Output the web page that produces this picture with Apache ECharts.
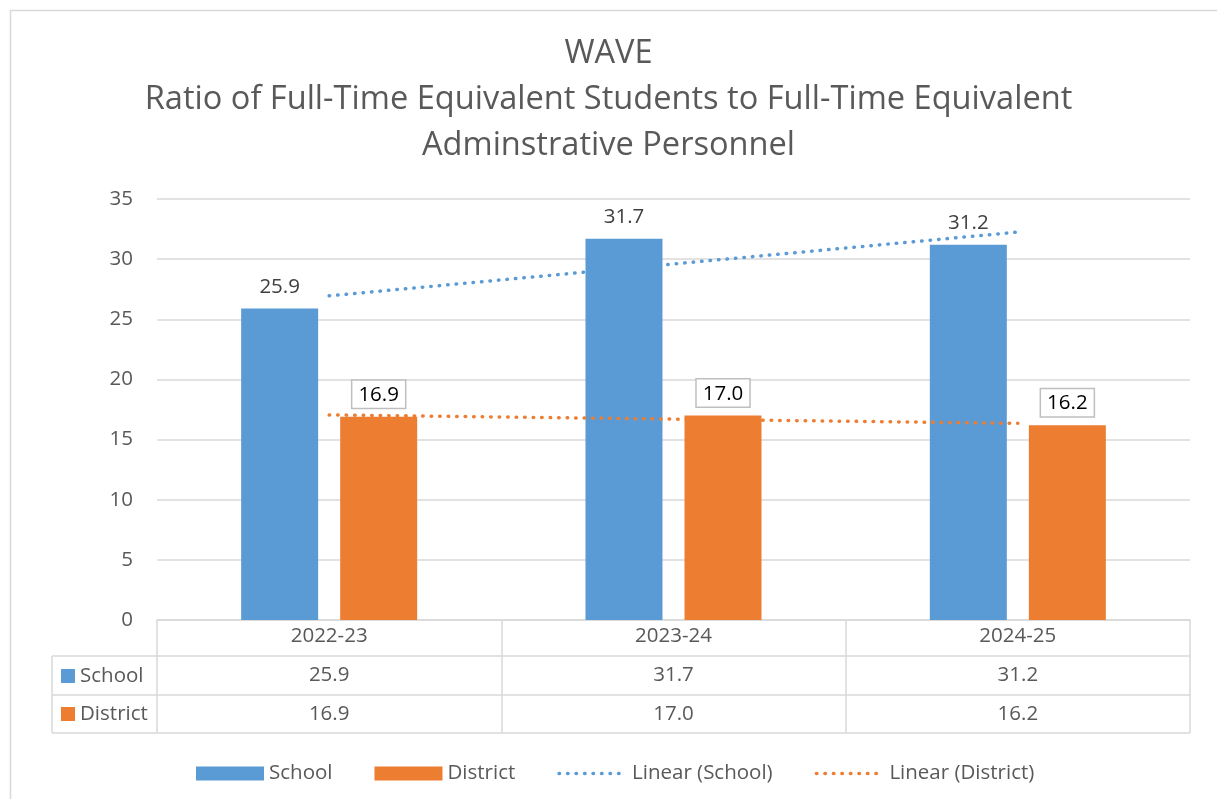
<!DOCTYPE html>
<html>
<head>
<meta charset="utf-8">
<script src="https://cdn.jsdelivr.net/npm/echarts@6/dist/echarts.min.js"></script>
<style>
  html, body { margin: 0; padding: 0; background: #fff; }
  #main { width: 1217px; height: 799px; }
</style>
</head>
<body>
<div id="main"></div>
<script>
// chart data
var categories = ["2022-23", "2023-24", "2024-25"];
var schoolValues = [25.9, 31.7, 31.2];
var districtValues = [16.9, 17.0, 16.2];
var yTicks = { min: 0, max: 35, interval: 5 };

var FONT = "Open Sans";
var TXT = "#595959";
var GRID_LINE = "#d9d9d9";
var BLUE = "#5b9bd5";
var ORANGE = "#ed7d31";
var FS = 20.5;

// Excel style linear trendline (least squares over category index 1..n)
function linearTrend(vals) {
  var n = vals.length, sx = 0, sy = 0, sxy = 0, sxx = 0;
  vals.forEach(function (v, i) {
    var x = i + 1;
    sx += x; sy += v; sxy += x * v; sxx += x * x;
  });
  var slope = (n * sxy - sx * sy) / (n * sxx - sx * sx);
  var icpt = (sy - slope * sx) / n;
  return vals.map(function (v, i) { return +(icpt + slope * (i + 1)).toFixed(3); });
}

var dotted = function (c) {
  return { color: c, width: 3.5, type: [0.5, 8], cap: "round" };
};

var myChart = echarts.init(document.getElementById("main"));

var option = {
  backgroundColor: "#fff",
  textStyle: { fontFamily: FONT },
  title: {
    text: "WAVE\nRatio of Full-Time Equivalent Students to Full-Time Equivalent\nAdminstrative Personnel",
    left: "center",
    top: 26,
    textStyle: { fontFamily: FONT, fontSize: 32.6, fontWeight: "normal", color: TXT, lineHeight: 46 }
  },
  grid: { left: 157, right: 27, top: 199, bottom: 179 },
  legend: {
    left: 196,
    top: 763,
    padding: 0,
    itemWidth: 68,
    itemHeight: 14,
    itemGap: 42,
    textStyle: { fontFamily: FONT, fontSize: FS, color: TXT },
    data: [
      { name: "School", icon: "rect" },
      { name: "District", icon: "rect" },
      { name: "Linear (School)", itemStyle: { color: "rgba(0,0,0,0)", borderWidth: 0 }, lineStyle: dotted(BLUE) },
      { name: "Linear (District)", itemStyle: { color: "rgba(0,0,0,0)", borderWidth: 0 }, lineStyle: dotted(ORANGE) }
    ]
  },
  xAxis: [
    {
      type: "category",
      data: categories,
      axisLine: { lineStyle: { color: GRID_LINE, width: 1.5 } },
      // long ticks draw the data table column dividers
      axisTick: { show: true, length: 113, lineStyle: { color: GRID_LINE, width: 1.5 } },
      axisLabel: { margin: 6, fontSize: FS, color: TXT, fontFamily: FONT }
    },
    {
      type: "category",
      position: "bottom",
      offset: 39,
      data: schoolValues.map(function (v) { return v.toFixed(1); }),
      axisLine: { show: false },
      axisTick: { show: false },
      axisLabel: { margin: 6, fontSize: FS, color: TXT, fontFamily: FONT }
    },
    {
      type: "category",
      position: "bottom",
      offset: 78,
      data: districtValues.map(function (v) { return v.toFixed(1); }),
      axisLine: { show: false },
      axisTick: { show: false },
      axisLabel: { margin: 6, fontSize: FS, color: TXT, fontFamily: FONT }
    }
  ],
  yAxis: {
    type: "value",
    min: yTicks.min,
    max: yTicks.max,
    interval: yTicks.interval,
    axisLine: { show: false },
    axisTick: { show: false },
    axisLabel: { margin: 24, fontSize: FS, color: TXT, fontFamily: FONT },
    splitLine: { lineStyle: { color: GRID_LINE, width: 1.5 } }
  },
  series: [
    {
      name: "School",
      type: "bar",
      data: schoolValues,
      barWidth: 77,
      barGap: "28.6%",
      itemStyle: { color: BLUE },
      label: {
        show: true, position: "top", distance: 11,
        formatter: function (p) { return p.value.toFixed(1); },
        fontSize: FS, color: "#404040", fontFamily: FONT
      }
    },
    {
      name: "District",
      type: "bar",
      data: districtValues,
      barWidth: 77,
      itemStyle: { color: ORANGE },
      label: {
        show: true, position: "top", distance: 9,
        formatter: function (p) { return p.value.toFixed(1); },
        fontSize: FS, color: "#000", fontFamily: FONT,
        backgroundColor: "#fff", borderColor: "#bfbfbf", borderWidth: 1.5,
        padding: [4, 6, 2, 6]
      }
    },
    {
      name: "Linear (School)",
      type: "line",
      data: linearTrend(schoolValues),
      symbol: "none",
      z: 5,
      lineStyle: dotted(BLUE),
      itemStyle: { color: BLUE }
    },
    {
      name: "Linear (District)",
      type: "line",
      data: linearTrend(districtValues),
      symbol: "none",
      z: 5,
      lineStyle: dotted(ORANGE),
      itemStyle: { color: ORANGE }
    }
  ],
  graphic: [
    // outer chart frame
    { type: "rect", left: 8, top: 8, shape: { width: 1215, height: 795 }, style: { fill: null, stroke: GRID_LINE, lineWidth: 1.5 }, silent: true },
    // data table rows
    { type: "line", shape: { x1: 52, y1: 656, x2: 1190, y2: 656 }, style: { stroke: GRID_LINE, lineWidth: 1.5 }, silent: true },
    { type: "line", shape: { x1: 52, y1: 695, x2: 1190, y2: 695 }, style: { stroke: GRID_LINE, lineWidth: 1.5 }, silent: true },
    { type: "line", shape: { x1: 52, y1: 733, x2: 1190, y2: 733 }, style: { stroke: GRID_LINE, lineWidth: 1.5 }, silent: true },
    { type: "line", shape: { x1: 52, y1: 656, x2: 52, y2: 733 }, style: { stroke: GRID_LINE, lineWidth: 1.5 }, silent: true },
    // row headers with legend keys
    { type: "rect", left: 61, top: 669, shape: { width: 14, height: 14 }, style: { fill: BLUE }, silent: true },
    { type: "text", x: 80, y: 676, style: { text: "School", fontSize: FS, fill: TXT, fontFamily: FONT, verticalAlign: "middle" }, silent: true },
    { type: "rect", left: 61, top: 707, shape: { width: 14, height: 14 }, style: { fill: ORANGE }, silent: true },
    { type: "text", x: 80, y: 714, style: { text: "District", fontSize: FS, fill: TXT, fontFamily: FONT, verticalAlign: "middle" }, silent: true }
  ]
};

myChart.setOption(option);
</script>
</body>
</html>
